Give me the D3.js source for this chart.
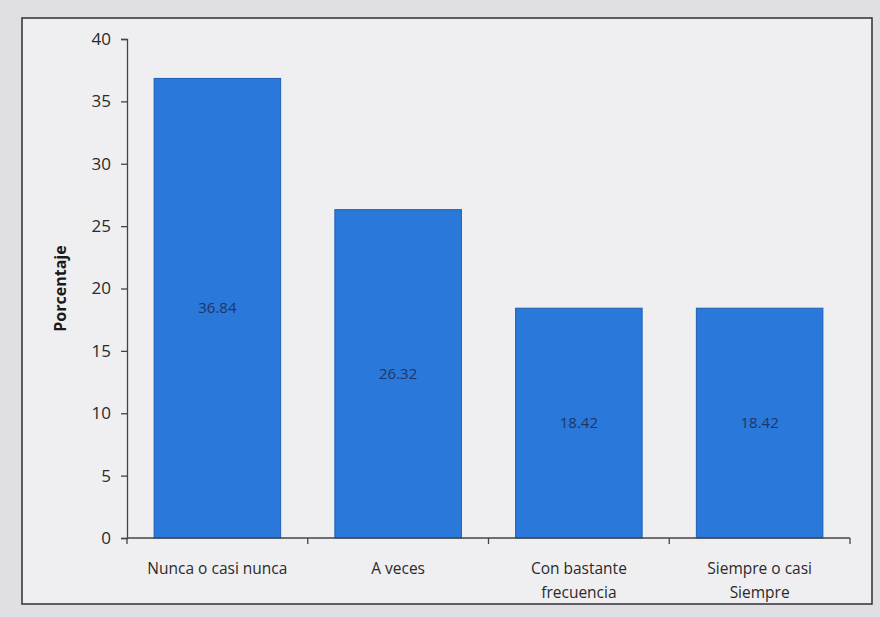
<!DOCTYPE html>
<html>
<head>
<meta charset="utf-8">
<script src="https://cdn.jsdelivr.net/npm/d3@7"></script>
<style>
  html, body { margin: 0; padding: 0; background: #e0e0e4; }
  svg { display: block; }
</style>
</head>
<body>
<svg id="chart" width="880" height="617"></svg>
<script>
// Response frequency (percentage of respondents)
const categories = [
  ["Nunca o casi nunca"],
  ["A veces"],
  ["Con bastante", "frecuencia"],
  ["Siempre o casi", "Siempre"]
];
const values = [36.84, 26.32, 18.42, 18.42];
const yTicks = [0, 5, 10, 15, 20, 25, 30, 35, 40];
const yTitle = "Porcentaje";

const svg = d3.select("#chart");
const W = 880, H = 617;
const margin = { left: 127, right: 30, top: 39, bottom: 79 };
const font = "'Open Sans', 'Liberation Sans', sans-serif";

// Chart frame
svg.append("rect")
  .attr("x", 22).attr("y", 18)
  .attr("width", 850).attr("height", 586)
  .attr("fill", "#efeff1")
  .attr("stroke", "#3a3a3e").attr("stroke-width", 1.6);

const x = d3.scaleBand()
  .domain(categories.map((d, i) => i))
  .range([margin.left, W - margin.right])
  .paddingInner(0.3)
  .paddingOuter(0.15);

const y = d3.scaleLinear()
  .domain([0, 40])
  .range([H - margin.bottom, margin.top]);

// Bars
svg.append("g").selectAll("rect")
  .data(values)
  .join("rect")
  .attr("x", (d, i) => x(i))
  .attr("y", d => y(d))
  .attr("width", x.bandwidth())
  .attr("height", d => y(0) - y(d))
  .attr("fill", "#2a78d9")
  .attr("stroke", "#1d5fb5")
  .attr("stroke-width", 1);

// Value labels centred in each bar
svg.append("g").selectAll("text")
  .data(values)
  .join("text")
  .attr("x", (d, i) => x(i) + x.bandwidth() / 2)
  .attr("y", d => (y(d) + y(0)) / 2)
  .attr("dy", "0.35em")
  .attr("text-anchor", "middle")
  .attr("font-family", font)
  .attr("font-size", 15)
  .attr("fill", "#1f3566")
  .text(d => d.toFixed(2));

// Y axis
const yAxis = svg.append("g")
  .attr("transform", `translate(${margin.left},0)`)
  .call(d3.axisLeft(y).tickValues(yTicks).tickSize(6).tickPadding(10));
yAxis.selectAll("text")
  .attr("font-family", font)
  .attr("font-size", 17)
  .attr("fill", "#2a2a2a");
yAxis.selectAll("line, path").attr("stroke", "#444").attr("stroke-width", 1.3);

// X axis with ticks at category boundaries
const step = x.step();
const bounds = d3.range(categories.length + 1)
  .map(i => margin.left + i * step);
const xg = svg.append("g");
xg.append("line")
  .attr("x1", margin.left).attr("x2", W - margin.right)
  .attr("y1", y(0)).attr("y2", y(0))
  .attr("stroke", "#444").attr("stroke-width", 1.3);
xg.selectAll("line.tick")
  .data(bounds)
  .join("line")
  .attr("class", "tick")
  .attr("x1", d => d).attr("x2", d => d)
  .attr("y1", y(0)).attr("y2", y(0) + 6)
  .attr("stroke", "#444").attr("stroke-width", 1.3);

// Category labels
svg.append("g").selectAll("text")
  .data(categories)
  .join("text")
  .attr("text-anchor", "middle")
  .attr("font-family", font)
  .attr("font-size", 15.5)
  .attr("fill", "#2a2a2a")
  .each(function (lines, i) {
    const t = d3.select(this);
    lines.forEach((ln, j) => {
      t.append("tspan")
        .attr("x", x(i) + x.bandwidth() / 2)
        .attr("y", y(0) + 36 + j * 24)
        .text(ln);
    });
  });

// Y axis title
svg.append("text")
  .attr("transform", `translate(66,${(y(0) + y(40)) / 2}) rotate(-90)`)
  .attr("text-anchor", "middle")
  .attr("font-family", font)
  .attr("font-size", 16)
  .attr("font-weight", "bold")
  .attr("fill", "#1a1a1a")
  .text(yTitle);
</script>
</body>
</html>
